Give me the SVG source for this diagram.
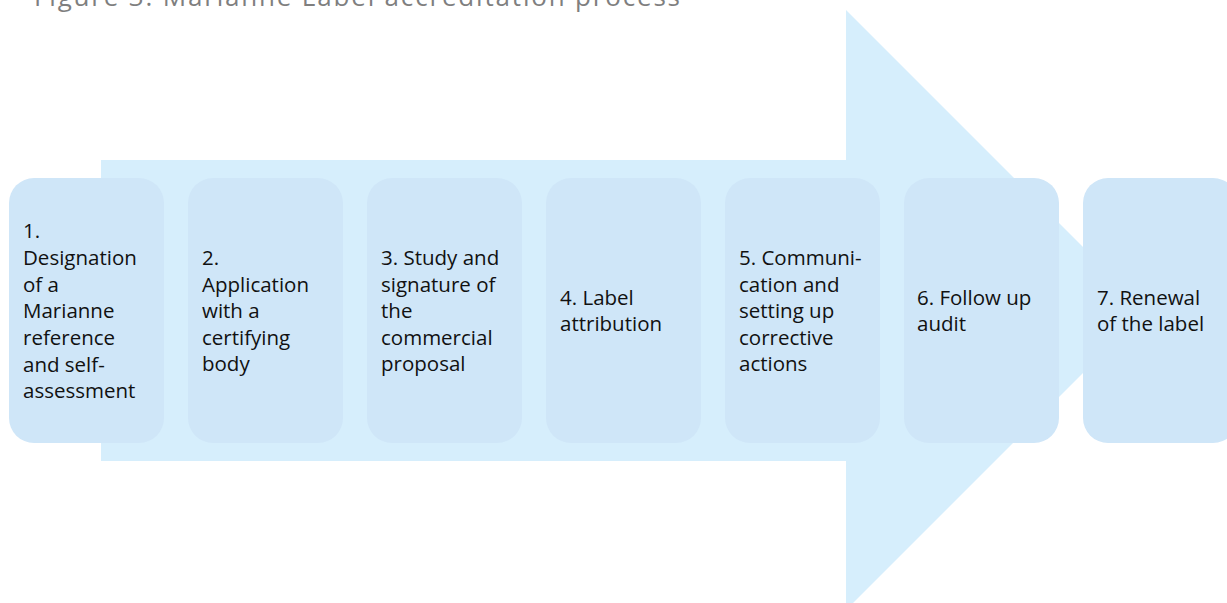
<svg xmlns="http://www.w3.org/2000/svg" width="1227" height="603" viewBox="0 0 1227 603">
  <style>
    .box { fill: #CFE6F8; }
    .arrow { fill: #D6EEFC; }
    .lbl { font-family: "Open Sans", "Noto Sans", "Liberation Sans", sans-serif; font-size: 20.5px; fill: #111111; }
    .title { font-family: "Open Sans", "Noto Sans", "Liberation Sans", sans-serif; font-size: 26px; fill: #7F7F7F; }
  </style>
  <rect width="1227" height="603" fill="#FFFFFF"/>
  <text class="title" x="34" y="6" textLength="646" lengthAdjust="spacing">Figure 3: Marianne Label accreditation process</text>
  <g id="connectors">
    <path class="arrow" d="M101,160 L846,160 L846,10 L1146,310 L846,610 L846,461 L101,461 Z"/>
  </g>
  <g id="n1">
    <rect class="box" x="9" y="178" width="155" height="265" rx="25" ry="25"/>
    <text class="lbl"><tspan x="23" y="238">1.</tspan><tspan x="23" y="265">Designation</tspan><tspan x="23" y="291.5">of a</tspan><tspan x="23" y="318">Marianne</tspan><tspan x="23" y="345">reference</tspan><tspan x="23" y="371.5">and self-</tspan><tspan x="23" y="398">assessment</tspan></text>
  </g>
  <g id="n2">
    <rect class="box" x="188" y="178" width="155" height="265" rx="25" ry="25"/>
    <text class="lbl"><tspan x="202" y="265">2.</tspan><tspan x="202" y="291.5">Application</tspan><tspan x="202" y="318">with a</tspan><tspan x="202" y="344.5">certifying</tspan><tspan x="202" y="371">body</tspan></text>
  </g>
  <g id="n3">
    <rect class="box" x="367" y="178" width="155" height="265" rx="25" ry="25"/>
    <text class="lbl"><tspan x="381" y="265">3. Study and</tspan><tspan x="381" y="291.5">signature of</tspan><tspan x="381" y="318">the</tspan><tspan x="381" y="344.5">commercial</tspan><tspan x="381" y="371">proposal</tspan></text>
  </g>
  <g id="n4">
    <rect class="box" x="546" y="178" width="155" height="265" rx="25" ry="25"/>
    <text class="lbl"><tspan x="560" y="304.5">4. Label</tspan><tspan x="560" y="331">attribution</tspan></text>
  </g>
  <g id="n5">
    <rect class="box" x="725" y="178" width="155" height="265" rx="25" ry="25"/>
    <text class="lbl"><tspan x="739" y="265">5. Communi-</tspan><tspan x="739" y="291.5">cation and</tspan><tspan x="739" y="318">setting up</tspan><tspan x="739" y="344.5">corrective</tspan><tspan x="739" y="371">actions</tspan></text>
  </g>
  <g id="n6">
    <rect class="box" x="904" y="178" width="155" height="265" rx="25" ry="25"/>
    <text class="lbl"><tspan x="917" y="304.5">6. Follow up</tspan><tspan x="917" y="331">audit</tspan></text>
  </g>
  <g id="n7">
    <rect class="box" x="1083" y="178" width="155" height="265" rx="25" ry="25"/>
    <text class="lbl"><tspan x="1097" y="304.5">7. Renewal</tspan><tspan x="1097" y="331">of the label</tspan></text>
  </g>
</svg>
